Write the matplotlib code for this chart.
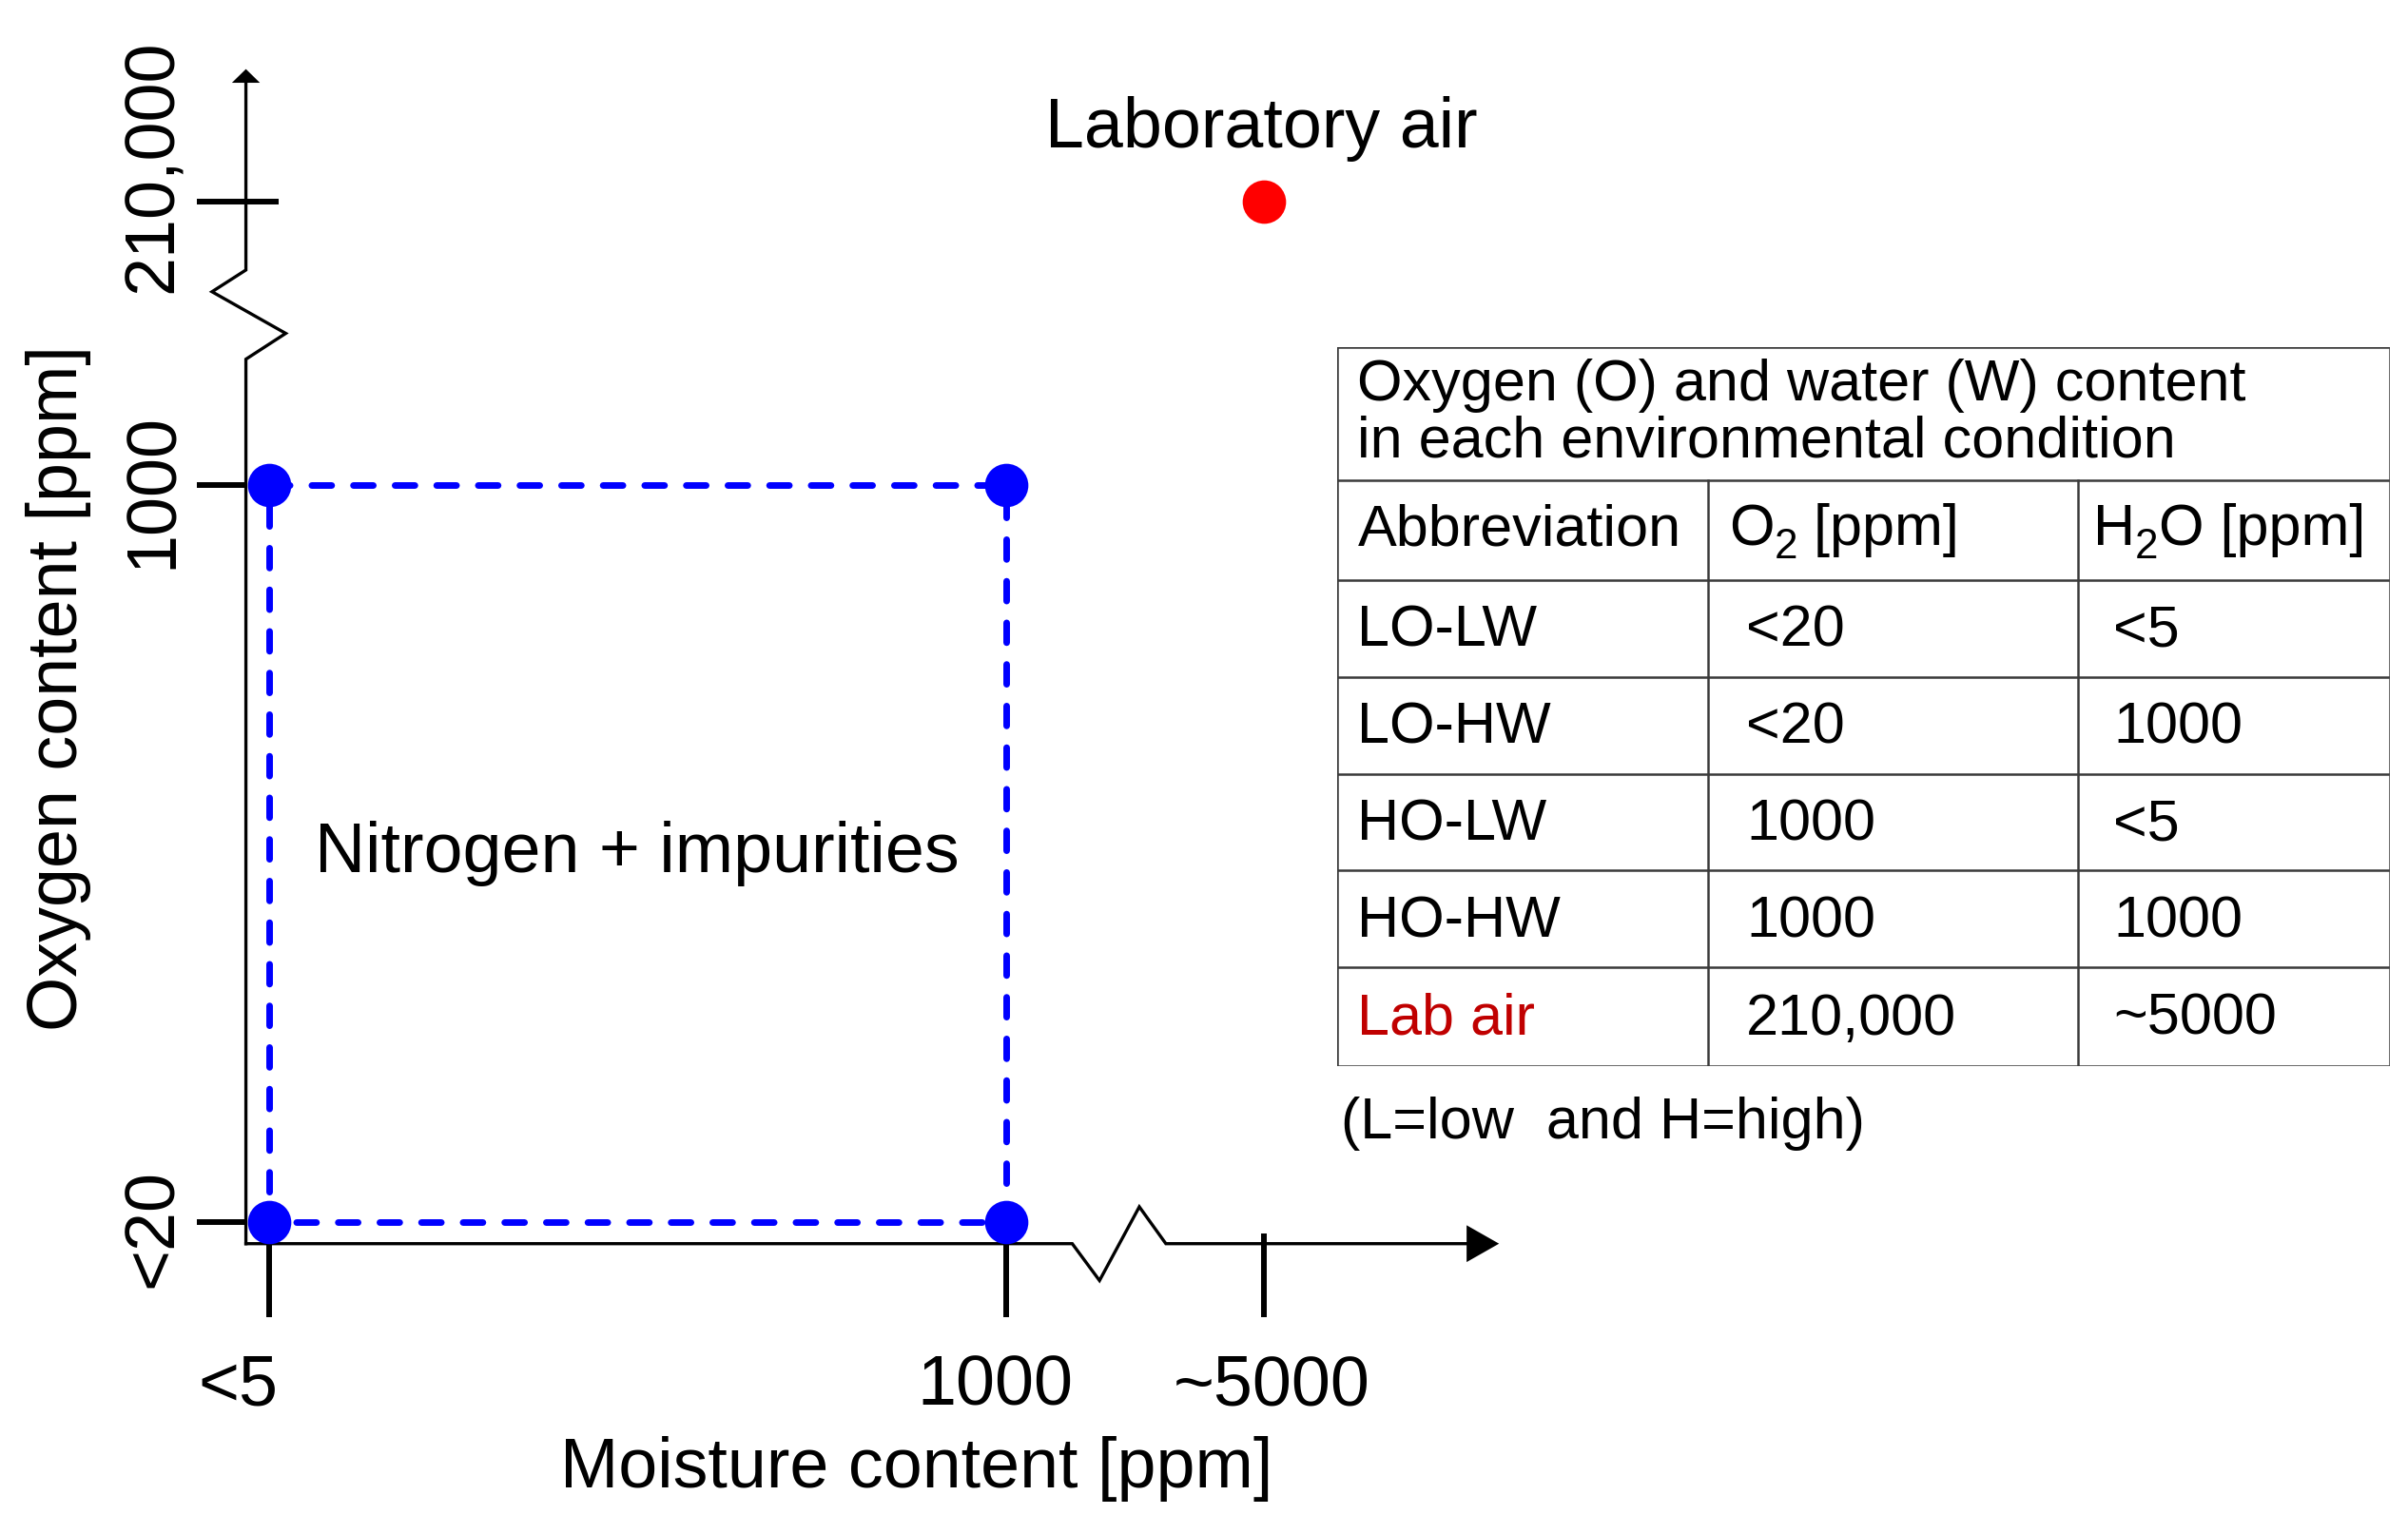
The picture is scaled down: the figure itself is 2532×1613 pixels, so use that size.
import numpy as np
import matplotlib.pyplot as plt

plt.rcParams['font.family'] = ['Liberation Sans', 'DejaVu Sans']

# environmental conditions (table + scatter points)
abbrev = ['LO-LW', 'LO-HW', 'HO-LW', 'HO-HW', 'Lab air']
o2_ppm = ['<20', '<20', '1000', '1000', '210,000']
h2o_ppm = ['<5', '1000', '<5', '1000', '~5000']
x_ticklabels = ['<5', '1000', '~5000']
y_ticklabels = ['<20', '1000', '210,000']

# where each tick sits on the (broken) axes, box side = 1
x_pos = {'<5': 0.0, '1000': 1.0, '~5000': 1.35}
y_pos = {'<20': 0.0, '1000': 1.0, '210,000': 1.385}
# small label nudges, like in the original drawing
x_lab_dx = {'<5': -0.042, '1000': -0.015, '~5000': 0.01}
y_lab_dy = {'<20': -0.008, '1000': -0.008, '210,000': 0.048}

BLUE = '#0000ff'
RED = '#ff0000'
FS = 53
FS_T = 44

fig = plt.figure(figsize=(25.32, 16.13), dpi=100)
ax = fig.add_axes([0, 0, 1, 1])
ax.set_xlim(-0.3646, 2.9021)
ax.set_ylim(-0.4229, 1.6583)
ax.axis('off')

xs = [x_pos[h] for h in h2o_ppm]
ys = [y_pos[o] for o in o2_ppm]

# dashed box through the four N2 conditions
order = [0, 1, 3, 2, 0]
ax.plot([xs[i] for i in order], [ys[i] for i in order], color=BLUE, lw=5,
        ls=(2.2, (3.0, 3.3)), dash_capstyle='round', zorder=3)
ax.scatter(xs[:4], ys[:4], s=1080, color=BLUE, zorder=4, linewidths=0)
ax.scatter(xs[4:], ys[4:], s=1080, color=RED, zorder=4, linewidths=0)

# axes with breaks
ax0x = -0.031
ax0y = -0.029
k = dict(color='black', lw=2.4, solid_joinstyle='miter', zorder=2)
ax.plot([ax0x, ax0x, 0.023, -0.077, ax0x, ax0x],
        [ax0y, 1.171, 1.206, 1.2625, 1.292, 1.55], **k)
ax.plot([ax0x, 1.09, 1.127, 1.181, 1.217, 1.63],
        [ax0y, ax0y, -0.079, 0.021, ax0y, ax0y], **k)
ax.fill([1.669, 1.625, 1.625], [ax0y, ax0y + 0.025, ax0y - 0.025], color='black', lw=0)
ax.fill([ax0x, ax0x - 0.019, ax0x + 0.019], [1.5646, 1.546, 1.546], color='black', lw=0)

# ticks
for lab in x_ticklabels:
    top = ax0y + (0.014 if x_pos[lab] > 1.1 else 0)
    ax.plot([x_pos[lab]] * 2, [top, -0.129], color='black', lw=4.3,
            solid_capstyle='butt', zorder=2)
    ax.text(x_pos[lab] + x_lab_dx[lab], -0.223, lab, fontsize=FS, ha='center', va='center')
for lab in y_ticklabels:
    right = ax0x + (0.044 if y_pos[lab] > 1.1 else 0)
    ax.plot([-0.097, right], [y_pos[lab]] * 2, color='black', lw=4.3,
            solid_capstyle='butt', zorder=2)
    ax.text(-0.156, y_pos[lab] + y_lab_dy[lab], lab, fontsize=FS, ha='center',
            va='center', rotation=90)

ax.text(0.879, -0.335, 'Moisture content [ppm]', fontsize=FS, ha='center', va='center')
ax.text(-0.285, 0.725, 'Oxygen content [ppm]', fontsize=FS, ha='center', va='center',
        rotation=90)
ax.text(xs[4] - 0.003, ys[4] + 0.098, 'Laboratory air', fontsize=FS, ha='center', va='center')
ax.text(np.mean(xs[:4]), np.mean(ys[:4]), 'Nitrogen + impurities', fontsize=FS,
        ha='center', va='center')

# table
tax = fig.add_axes([871 / 1568, 1 - 694 / 999, 685 / 1568, 468 / 999])
tax.set_xlim(0, 685)
tax.set_ylim(468, 0)
tax.axis('off')
lc = dict(color='#3a3a3a', lw=1.8)
rows = [0, 87, 152, 215, 278, 341, 404, 468]
for r in rows:
    tax.plot([0, 685], [r, r], **lc)
tax.plot([0, 0], [0, 468], **lc)
tax.plot([685, 685], [0, 468], **lc)
for c in [241, 482]:
    tax.plot([c, c], [87, 468], **lc)

tax.text(13, 25, 'Oxygen (O) and water (W) content', fontsize=FS_T, va='center')
tax.text(13, 62, 'in each environmental condition', fontsize=FS_T, va='center')
hy = (rows[1] + rows[2]) / 2
tax.text(13, hy, 'Abbreviation', fontsize=FS_T, va='center')

# header with big, low subscripts (like the original)
renderer = fig.canvas.get_renderer()
inv = tax.transData.inverted()


def put_pieces(x, y, pieces):
    for txt, sub in pieces:
        if sub:
            t = tax.text(x, y + 11, txt, fontsize=FS_T * 0.72, va='center')
        else:
            t = tax.text(x, y, txt, fontsize=FS_T, va='center')
        bb = t.get_window_extent(renderer)
        x = inv.transform((bb.x1, bb.y0))[0]


put_pieces(255, hy, [('O', False), ('2', True), (' [ppm]', False)])
put_pieces(492, hy, [('H', False), ('2', True), ('O [ppm]', False)])

for i in range(len(abbrev)):
    yc = (rows[i + 2] + rows[i + 3]) / 2 + 2
    col = '#c00000' if abbrev[i] == 'Lab air' else 'black'
    tax.text(13, yc, abbrev[i], fontsize=FS_T, va='center', color=col)
    tax.text(266, yc, o2_ppm[i], fontsize=FS_T, va='center')
    tax.text(505, yc, h2o_ppm[i], fontsize=FS_T, va='center')
tax.text(2, 506, '(L=low  and H=high)', fontsize=FS_T, va='center')

fig.savefig('out.png', dpi=100)
